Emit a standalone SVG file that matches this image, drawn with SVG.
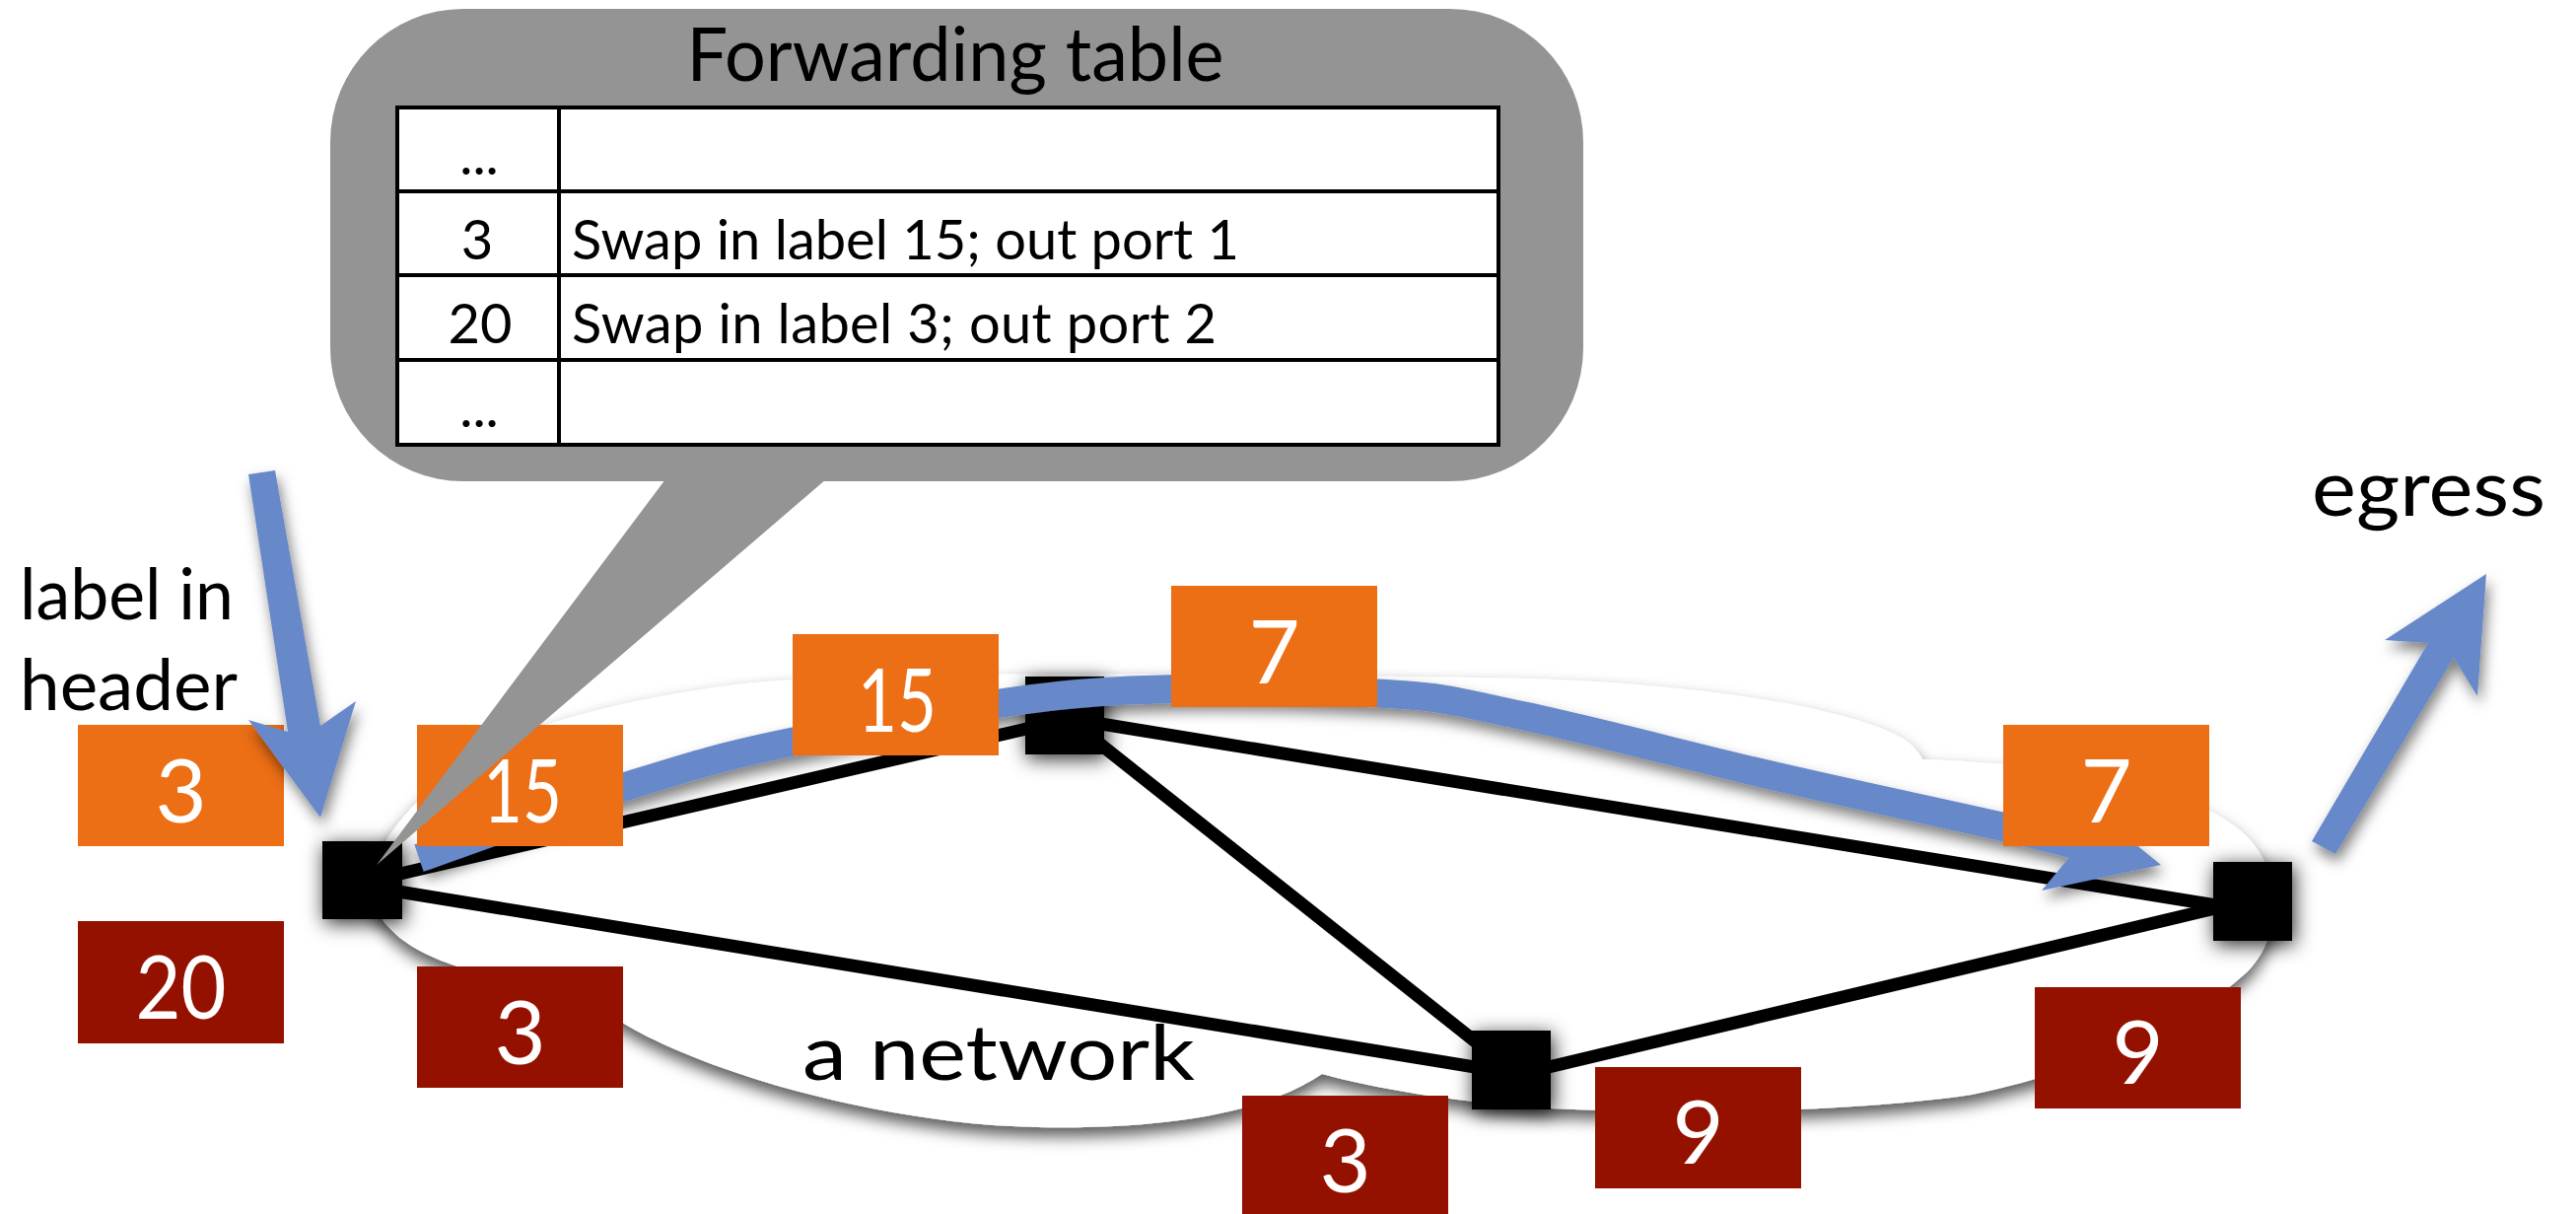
<svg xmlns="http://www.w3.org/2000/svg" width="2613" height="1231" viewBox="0 0 2613 1231">
<defs>
<style>
.lbl{font-family:Lato,"Liberation Sans",sans-serif;fill:#fff;font-size:90px;text-anchor:middle}
.blk{font-family:Lato,"Liberation Sans",sans-serif;fill:#000}
.tb{font-family:Lato,"Liberation Sans",sans-serif;fill:#000;font-size:56px}
.org{fill:#ec6e15}
.red{fill:#941100}
.node{fill:#000}
.edge{stroke:#000;stroke-width:13;fill:none}
.blue{fill:#6889c9}
.cell{fill:#fff;stroke:#000;stroke-width:4}
</style>
<filter id="cloudSh" x="-10%" y="-30%" width="120%" height="160%">
<feDropShadow dx="0" dy="9" stdDeviation="8" flood-color="#000" flood-opacity="0.65"/>
</filter>
<filter id="nodeSh" x="-60%" y="-60%" width="220%" height="220%">
<feDropShadow dx="2" dy="4" stdDeviation="10" flood-color="#000" flood-opacity="0.85"/>
</filter>
<filter id="blueSh" x="-20%" y="-40%" width="140%" height="180%">
<feDropShadow dx="3" dy="8" stdDeviation="7" flood-color="#000" flood-opacity="0.5"/>
</filter>
</defs>
<rect width="2613" height="1231" fill="#fff"/>

<g id="cloud">
<path filter="url(#cloudSh)" fill="#fff" d="M 372 900 C 385 830, 470 760, 560 733 C 640 708, 740 692, 810 689 C 1000 680, 1300 684, 1546 688 C 1700 692, 1880 715, 1935 752 C 1945 760, 1948 766, 1950 770 C 2100 775, 2220 800, 2270 840 C 2320 880, 2315 950, 2280 985 C 2220 1040, 2120 1085, 2000 1110 C 1880 1128, 1700 1130, 1573 1124 C 1480 1118, 1400 1105, 1341 1089 C 1280 1130, 1180 1145, 1053 1143 C 900 1140, 720 1090, 633 1038 C 600 1020, 520 1000, 461 979 C 420 965, 385 945, 372 900 Z"/>
<text class="blk" x="814" y="1095" font-size="78" textLength="398" lengthAdjust="spacingAndGlyphs">a network</text>
</g>

<g id="connectors">
<line class="edge" x1="367" y1="895" x2="1080" y2="730"/>
<line class="edge" x1="367" y1="898" x2="1533" y2="1088"/>
<line class="edge" x1="1080" y1="726" x2="1533" y2="1085"/>
<line class="edge" x1="1080" y1="728" x2="2285" y2="924"/>
<line class="edge" x1="1533" y1="1091" x2="2285" y2="912"/>
</g>

<g id="routers">
<rect id="r1" class="node" filter="url(#nodeSh)" x="327" y="853" width="81" height="79"/>
<rect id="r2" class="node" filter="url(#nodeSh)" x="1040" y="686" width="80" height="79"/>
<rect id="r3" class="node" filter="url(#nodeSh)" x="1493" y="1045" width="80" height="80"/>
<rect id="r4" class="node" filter="url(#nodeSh)" x="2245" y="874" width="80" height="80"/>
</g>

<g id="path-arrow" filter="url(#blueSh)">
<path fill="none" stroke="#6889c9" stroke-width="29" d="M 425 870 C 459.7 858, 569.7 817.7, 633 798 C 696.3 778.3, 727.2 767.8, 805 752 C 882.8 736.2, 1001.3 711.2, 1100 703 C 1198.7 694.8, 1322.7 699.2, 1397 703 C 1471.3 706.8, 1478.8 712, 1546 726 C 1613.2 740, 1719.3 768.3, 1800 787 C 1880.7 805.7, 1979.5 826.5, 2030 838 C 2080.5 849.5, 2090.8 853, 2106 857"/>
<polygon class="blue" points="2106,843 2096,799 2192,877 2071,903 2100,868"/>
</g>

<g id="labels">
<g id="lbl-in3"><rect class="org" x="79" y="735" width="209" height="123"/><text class="lbl" x="183.5" y="834">3</text></g>
<g id="lbl-in20"><rect class="red" x="79" y="934" width="209" height="124"/><text class="lbl" x="183.5" y="1033" textLength="92" lengthAdjust="spacingAndGlyphs">20</text></g>
<g id="lbl-15a"><rect class="org" x="423" y="735" width="209" height="123"/><text class="lbl" x="530" y="834" textLength="80" lengthAdjust="spacingAndGlyphs">15</text></g>
<g id="lbl-3a"><rect class="red" x="423" y="980" width="209" height="123"/><text class="lbl" x="527.5" y="1079">3</text></g>
<g id="lbl-15b"><rect class="org" x="804" y="643" width="209" height="123"/><text class="lbl" x="910" y="742" textLength="80" lengthAdjust="spacingAndGlyphs">15</text></g>
<g id="lbl-7a"><rect class="org" x="1188" y="594" width="209" height="123"/><text class="lbl" x="1292.5" y="693">7</text></g>
<g id="lbl-3b"><rect class="red" x="1260" y="1111" width="209" height="123"/><text class="lbl" x="1364.5" y="1209">3</text></g>
<g id="lbl-9a"><rect class="red" x="1618" y="1082" width="209" height="123"/><text class="lbl" x="1722.5" y="1180">9</text></g>
<g id="lbl-7b"><rect class="org" x="2032" y="735" width="209" height="123"/><text class="lbl" x="2136.5" y="834">7</text></g>
<g id="lbl-9b"><rect class="red" x="2064" y="1001" width="209" height="123"/><text class="lbl" x="2168.5" y="1099">9</text></g>
</g>

<g id="ingress">
<polygon class="blue" filter="url(#blueSh)" points="252,481 279,477 325,736 361,711 325,829 252,730 292,742"/>
<text class="blk" x="20" y="628" font-size="72" textLength="217" lengthAdjust="spacingAndGlyphs">label in</text>
<text class="blk" x="20" y="720" font-size="72" textLength="221" lengthAdjust="spacingAndGlyphs">header</text>
</g>

<g id="egress">
<polygon class="blue" filter="url(#blueSh)" points="2345,853 2463,652 2419,649 2522,582 2513,706 2489,667 2369,866"/>
<text class="blk" x="2345" y="523" font-size="80" textLength="237" lengthAdjust="spacingAndGlyphs">egress</text>
</g>

<g id="callout">
<rect x="335" y="9" width="1271" height="479" rx="135" ry="135" fill="#949494"/>
<polygon points="675,486 838,486 382,877" fill="#949494"/>
<text class="blk" x="969" y="82" font-size="76" text-anchor="middle" textLength="545" lengthAdjust="spacingAndGlyphs">Forwarding table</text>
<g id="table">
<rect class="cell" x="403" y="109" width="164" height="85"/>
<rect class="cell" x="567" y="109" width="953" height="85"/>
<rect class="cell" x="403" y="194" width="164" height="85"/>
<rect class="cell" x="567" y="194" width="953" height="85"/>
<rect class="cell" x="403" y="279" width="164" height="86"/>
<rect class="cell" x="567" y="279" width="953" height="86"/>
<rect class="cell" x="403" y="365" width="164" height="86"/>
<rect class="cell" x="567" y="365" width="953" height="86"/>
<text class="tb" x="486" y="177" text-anchor="middle">...</text>
<text class="tb" x="484" y="263" text-anchor="middle">3</text>
<text class="tb" x="580" y="263" textLength="677" lengthAdjust="spacing">Swap in label 15; out port 1</text>
<text class="tb" x="487" y="348" text-anchor="middle">20</text>
<text class="tb" x="580" y="348" textLength="654" lengthAdjust="spacing">Swap in label 3; out port 2</text>
<text class="tb" x="486" y="433" text-anchor="middle">...</text>
</g>
</g>
</svg>
